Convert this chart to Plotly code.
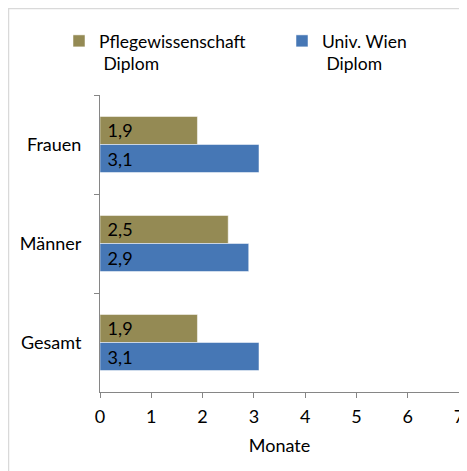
import plotly.graph_objects as go

categories = ["Frauen", "Männer", "Gesamt"]
series_names = ["Pflegewissenschaft<br> Diplom", "Univ. Wien<br> Diplom"]
pflege_values = [1.9, 2.5, 1.9]
univ_values = [3.1, 2.9, 3.1]
x_ticks = [0, 1, 2, 3, 4, 5, 6, 7]

colors = ["#948A54", "#4677B5"]
FONT = "Lato, Carlito, Calibri, sans-serif"

# page is shown with an 8px body margin, so the figure is 8px smaller
W, H = 459, 463
L, R, T, B = 92, 8, 87, 79
pw, ph = W - L - R, H - T - B

fig = go.Figure()
for name, vals, col, lg in zip(series_names, [pflege_values, univ_values], colors, ["legend", "legend2"]):
    fig.add_trace(go.Bar(
        y=categories, x=vals, name=name, orientation="h", legend=lg,
        marker=dict(color=col, line=dict(color="white", width=0.5)),
        texttemplate="\u00a0%{x:.1f}", textposition="inside", insidetextanchor="start",
        constraintext="none",
        textfont=dict(color="black", size=18, family=FONT),
        hoverinfo="skip",
    ))

def leg(px_x, px_y):
    return dict(x=(px_x - L) / pw, xanchor="left", y=1 + (T - px_y) / ph, yanchor="top",
                font=dict(size=17.5, family=FONT, color="black"), valign="top",
                itemclick=False, itemdoubleclick=False, bgcolor="rgba(0,0,0,0)")

fig.update_layout(
    width=W, height=H,
    margin=dict(l=L, r=R, t=T, b=B, autoexpand=False),
    paper_bgcolor="white", plot_bgcolor="white",
    separators=",.",
    barmode="group", bargap=0.434, bargroupgap=0,
    font=dict(family=FONT, size=18, color="black"),
    showlegend=True,
    legend=leg(51, 15),
    legend2=leg(274, 15),
    xaxis=dict(range=[0, 7], tickvals=x_ticks, showgrid=False, zeroline=False,
               showline=True, linecolor="#868686", ticks="outside", ticklen=5,
               tickcolor="#868686", ticklabelstandoff=3,
               title=dict(text="Monate", standoff=13, font=dict(size=18)),
               fixedrange=True),
    yaxis=dict(autorange="reversed", showgrid=False, showline=True,
               linecolor="#868686", ticks="outside", ticklen=5,
               tickcolor="#868686", tickson="boundaries", ticklabelstandoff=14,
               fixedrange=True),
    shapes=[dict(type="rect", xref="paper", yref="paper",
                 x0=(0.5 - L) / pw, x1=3, y0=-3, y1=1 + (T - 0.5) / ph,
                 line=dict(color="#D9D9D9", width=1.5), fillcolor="rgba(0,0,0,0)",
                 layer="below")],
)

fig.write_html("out.html")
